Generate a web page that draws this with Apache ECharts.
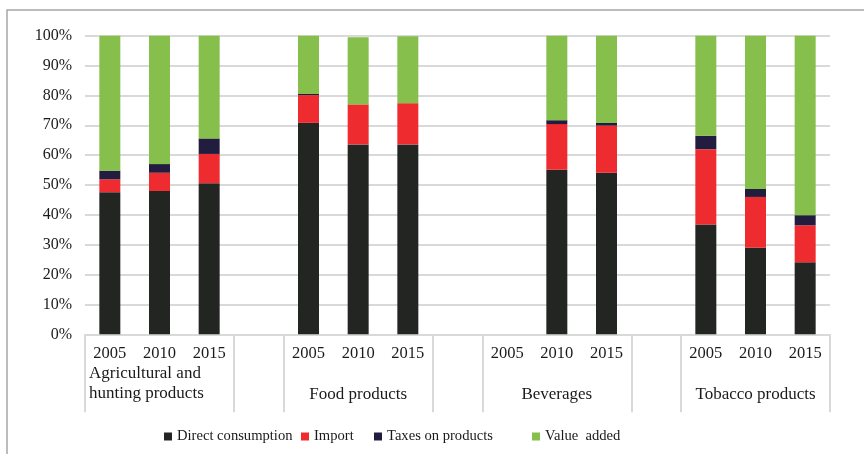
<!DOCTYPE html>
<html>
<head>
<meta charset="utf-8">
<style>
  html, body { margin: 0; padding: 0; background: #fff; }
  #chart { width: 864px; height: 454px; }
</style>
<script src="https://cdn.jsdelivr.net/npm/echarts@6/dist/echarts.min.js"></script>
</head>
<body>
<div id="chart"></div>
<script>
// Year slots; an empty slot separates each product group
const years = ['2005', '2010', '2015', '', '2005', '2010', '2015', '', '2005', '2010', '2015', '', '2005', '2010', '2015'];
// Product group names, one per slot (shown at the middle slot of each group)
const groups = ['', 'Agricultural and\nhunting products', '', '', '', 'Food products', '', '', '', 'Beverages', '', '', '', 'Tobacco products', ''];
// Share of output, %
const directConsumption = [47.6, 48.0, 50.6, null, 70.8, 63.6, 63.6, null, null, 55.1, 54.1, null, 36.8, 29.0, 24.1];
const importShare       = [4.3, 6.1, 9.8, null, 9.3, 13.4, 13.8, null, null, 15.3, 15.8, null, 25.2, 17.0, 12.4];
const taxesOnProducts   = [2.9, 2.9, 5.2, null, 0.4, -0.5, -0.3, null, null, 1.3, 0.9, null, 4.5, 2.7, 3.4];
const valueAdded        = [45.2, 43.0, 34.4, null, 19.5, 22.5, 22.4, null, null, 28.3, 29.2, null, 33.5, 51.3, 60.1];
const yTicks = [0, 10, 20, 30, 40, 50, 60, 70, 80, 90, 100];

const seriesNames = ['Direct consumption', 'Import', 'Taxes on products', 'Value  added'];
const colors = ['#232523', '#ee2b2f', '#221c3e', '#86bf4b'];
const seriesData = [directConsumption, importShare, taxesOnProducts, valueAdded];

const FONT = '"Liberation Serif", "Times New Roman", serif';
const groupBoundaries = [0, 3, 4, 7, 8, 11, 12, 15];

const chart = echarts.init(document.getElementById('chart'));

const legendLefts = [164, 301, 374, 532];

chart.setOption({
  animation: false,
  color: colors,
  graphic: [{
    type: 'rect',
    shape: { x: 7, y: 10, width: 900, height: 500 },
    style: { fill: 'none', stroke: '#a6a6a6', lineWidth: 1.5 },
    silent: true
  }],
  legend: seriesNames.map((name, i) => ({
    data: [name],
    left: legendLefts[i],
    top: 429,
    padding: 0,
    icon: 'rect',
    itemWidth: 8,
    itemHeight: 8,
    selectedMode: false,
    textStyle: { fontFamily: FONT, fontSize: 14.6, color: '#1a1a1a' }
  })),
  grid: { left: 85, right: 34, top: 35.7, bottom: 119.7, containLabel: false },
  xAxis: [{
    type: 'category',
    data: years,
    axisLine: { show: true, lineStyle: { color: '#d9d9d9', width: 1.5 } },
    axisTick: { show: false },
    axisLabel: { interval: 0, margin: 11, fontFamily: FONT, fontSize: 16.5, color: '#1a1a1a' },
    splitLine: { show: false }
  }, {
    type: 'category',
    data: groups,
    position: 'bottom',
    axisLine: { show: false },
    axisTick: {
      show: true,
      length: 78,
      interval: (index) => groupBoundaries.indexOf(index) >= 0,
      lineStyle: { color: '#d9d9d9', width: 2 }
    },
    axisLabel: {
      interval: 0,
      margin: 69,
      verticalAlign: 'bottom',
      fontFamily: FONT, fontSize: 17, color: '#1a1a1a',
      formatter: (v) => {
        if (!v) return '';
        if (v.indexOf('\n') >= 0) {
          return v.split('\n').map(s => '{l|' + s + '}').join('\n');
        }
        return v;
      },
      rich: {
        l: { width: 150, align: 'left', padding: [0, 0, 0, 9], fontFamily: FONT, fontSize: 17, lineHeight: 20, color: '#1a1a1a' }
      }
    }
  }],
  yAxis: {
    type: 'value',
    min: yTicks[0],
    max: yTicks[yTicks.length - 1],
    interval: 10,
    axisLine: { show: false },
    axisTick: { show: false },
    axisLabel: { margin: 13, fontFamily: FONT, fontSize: 16, color: '#1a1a1a', formatter: '{value}%' },
    splitLine: { lineStyle: { color: '#d9d9d9', width: 2 } }
  },
  series: seriesNames.map((name, i) => ({
    name,
    type: 'bar',
    stack: 'total',
    barWidth: 21,
    data: seriesData[i],
    itemStyle: { color: colors[i] }
  }))
});
</script>
</body>
</html>
